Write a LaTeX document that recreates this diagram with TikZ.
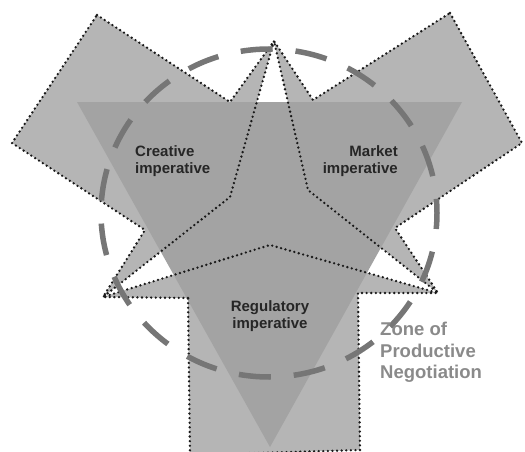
\documentclass[tikz,border=0pt]{standalone}
\usepackage{fontspec}
\setmainfont{Liberation Sans}
\definecolor{armgray}{RGB}{181,181,181}
\definecolor{trigray}{RGB}{163,163,163}
\definecolor{dashgray}{RGB}{118,118,118}
\definecolor{zonegray}{RGB}{138,138,138}
\tikzset{
  arm/.style={fill=armgray},
  rim/.style={draw=black!90, line width=2.6pt, line cap=round, dash pattern=on 0pt off 4.6pt},
  zone/.style={draw=dashgray, line width=5.5pt, dash pattern=on 32pt off 23pt, dash phase=16pt},
  imperative/.style={font=\bfseries\fontsize{15}{17}\selectfont, text=black!85, inner sep=0pt}
}
\begin{document}
\begin{tikzpicture}[x=1pt,y=-1pt]
  \clip (0,0) rectangle (525,452);
  % star tips and inner corners
  \coordinate (top) at (274,41);
  \coordinate (left) at (103,297);
  \coordinate (right) at (438,293);
  \coordinate (il) at (230,197);
  \coordinate (ir) at (308,190);
  \coordinate (ib) at (270,245);
  % square corners
  \coordinate (c1) at (97,15);
  \coordinate (c2) at (230,102);
  \coordinate (c3) at (145,230);
  \coordinate (c4) at (12,143);
  \coordinate (m1) at (450,13);
  \coordinate (m2) at (522,143);
  \coordinate (m3) at (395,228);
  \coordinate (m4) at (313,100);
  \coordinate (r1) at (188,298);
  \coordinate (r2) at (358,293);
  \coordinate (r3) at (360,450);
  \coordinate (r4) at (190,455);
  % arms
  \path[arm] (c1) -- (c2) -- (top) -- (il) -- (left) -- (c3) -- (c4) -- cycle;
  \path[arm] (m1) -- (m2) -- (m3) -- (right) -- (ir) -- (top) -- (m4) -- cycle;
  \path[arm] (r1) -- (left) -- (ib) -- (right) -- (r2) -- (r3) -- (r4) -- cycle;
  % triangle
  \fill[trigray] (77,102) -- (462,102) -- (270,447) -- cycle;
  % outlines
  \draw[rim] (c1) -- (c2) -- (top) -- (il) -- (left) -- (c3) -- (c4) -- cycle;
  \draw[rim] (m1) -- (m2) -- (m3) -- (right) -- (ir) -- (top) -- (m4) -- cycle;
  \draw[rim] (r1) -- (left) -- (ib) -- (right) -- (r2) -- (r3) -- (r4) -- cycle;
  % zone
  \draw[zone] (269,213) ellipse [x radius=168, y radius=164];
  % labels
  \node[imperative, anchor=north west, align=left] (creative) at (135,145) {Creative\\imperative};
  \node[imperative, anchor=north east, align=right] (market) at (398,145) {Market\\imperative};
  \node[imperative, anchor=north, align=center] (regulatory) at (270,300) {Regulatory\\imperative};
  \node[font=\bfseries\fontsize{18.5}{21.5}\selectfont, text=zonegray, inner sep=0pt,
    anchor=north west, align=left] (zonelabel) at (380,322) {Zone of\\Productive\\Negotiation};
\end{tikzpicture}
\end{document}
